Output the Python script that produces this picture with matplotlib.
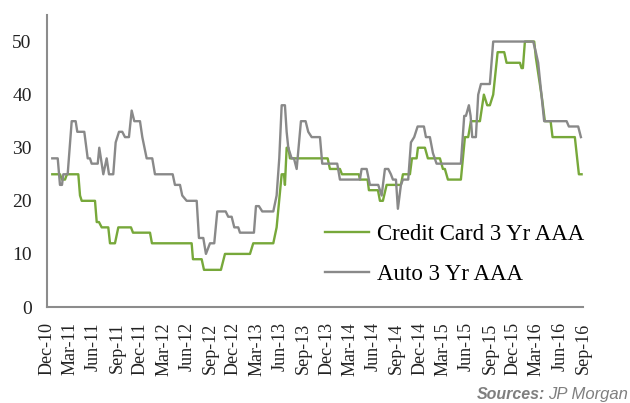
import matplotlib
matplotlib.use("Agg")
import matplotlib.pyplot as plt

# months since Dec-10
card_x = [0.68, 1.67, 1.93, 2.32, 2.57, 4.03, 4.25, 4.47, 6.18, 6.40,
          6.69, 7.04, 7.89, 8.11, 8.75, 9.18, 10.81, 11.07, 13.26, 13.51,
          18.62, 18.79, 19.91, 20.21, 22.39, 22.91, 26.13, 26.55, 29.13, 29.56,
          30.21, 30.50, 30.63, 30.85, 31.08, 31.27, 36.13, 36.42, 37.71, 37.97,
          40.15, 40.28, 41.27, 41.44, 42.60, 42.86, 43.24, 43.72, 45.56, 45.82,
          46.72, 46.98, 47.58, 47.75, 48.65, 49.03, 50.58, 50.97, 51.22, 51.61,
          53.28, 53.80, 54.22, 54.57, 55.73, 56.24, 56.67, 57.01, 57.44, 58.01,
          58.86, 59.16, 60.88, 61.09, 61.26, 61.52, 62.72, 62.93, 63.75, 64.09,
          64.83, 65.08, 67.95, 68.47, 68.82]
card_y = [25, 25, 24, 24, 25, 25, 21, 20, 20, 16,
          16, 15, 15, 12, 12, 15, 15, 14, 14, 12,
          12, 9, 9, 7, 7, 10, 10, 12, 12, 15,
          25, 25, 23, 30, 30, 28, 28, 26, 26, 25,
          25, 24, 24, 22, 22, 20, 20, 23, 23, 25,
          25, 28, 28, 30, 30, 28, 28, 26, 26, 24,
          24, 32, 32, 35, 35, 40, 38, 38, 40, 48,
          48, 46, 46, 45, 45, 50, 50, 47, 39, 35,
          35, 32, 32, 25, 25]

auto_x = [0.68, 1.38, 1.67, 1.93, 2.10, 2.66, 3.18, 3.69, 3.90, 4.80,
          5.24, 5.53, 5.75, 6.53, 6.73, 7.25, 7.68, 7.98, 8.53, 8.84,
          9.27, 9.69, 10.04, 10.55, 10.90, 11.24, 11.97, 12.27, 12.83, 13.55,
          13.90, 16.18, 16.47, 17.12, 17.41, 17.98, 19.27, 19.56, 20.12, 20.46,
          20.98, 21.53, 21.92, 23.00, 23.33, 23.77, 24.11, 24.62, 24.84, 26.64,
          26.90, 27.28, 27.71, 29.13, 29.56, 29.90, 30.21, 30.63, 30.85, 31.06,
          31.49, 31.79, 32.14, 32.69, 33.29, 33.63, 34.07, 35.14, 35.43, 37.36,
          37.71, 40.28, 40.50, 41.15, 41.57, 42.64, 43.08, 43.50, 43.93, 44.27,
          44.53, 44.92, 45.17, 45.56, 45.82, 46.50, 46.85, 47.27, 47.71, 48.52,
          48.78, 49.29, 49.68, 50.15, 53.28, 53.71, 53.93, 54.31, 54.53, 54.74,
          55.21, 55.51, 55.86, 57.01, 57.44, 62.59, 62.93, 63.23, 64.00, 66.89,
          67.18, 68.38, 68.73]
auto_y = [28, 28, 23, 23, 25, 25, 35, 35, 33, 33,
          28, 28, 27, 27, 30, 25, 28, 25, 25, 31,
          33, 33, 32, 32, 37, 35, 35, 32, 28, 28,
          25, 25, 23, 23, 21, 20, 20, 13, 13, 10,
          12, 12, 18, 18, 17, 17, 15, 15, 14, 14,
          19, 19, 18, 18, 21, 28, 38, 38, 33, 30,
          28, 28, 26, 35, 35, 33, 32, 32, 27, 27,
          24, 24, 26, 26, 23, 23, 21, 26, 26, 25,
          24, 24, 18.5, 23, 24, 24, 31, 32, 34, 34,
          32, 32, 29, 27, 27, 36, 36, 38, 36, 32,
          32, 40, 42, 42, 50, 50, 48, 46, 35, 35,
          34, 34, 32]

tick_labels = ["Dec-10", "Mar-11", "Jun-11", "Sep-11", "Dec-11", "Mar-12",
               "Jun-12", "Sep-12", "Dec-12", "Mar-13", "Jun-13", "Sep-13",
               "Dec-13", "Mar-14", "Jun-14", "Sep-14", "Dec-14", "Mar-15",
               "Jun-15", "Sep-15", "Dec-15", "Mar-16", "Jun-16", "Sep-16"]

plt.rcParams["font.family"] = ["Liberation Serif", "DejaVu Serif"]

fig = plt.figure(figsize=(6.3, 4.03), dpi=100)
ax = fig.add_axes([47/630, 96/403, 536/630, 292/403])

ax.plot(card_x, card_y, color="#77a83a", lw=1.7, label="Credit Card 3 Yr AAA")
ax.plot(auto_x, auto_y, color="#898989", lw=1.7, label="Auto 3 Yr AAA")

ax.set_xlim(0, 69)
ax.set_ylim(0, 55)
ax.set_yticks(range(0, 51, 10))
ax.set_xticks([3*i for i in range(len(tick_labels))])
ax.set_xticklabels(tick_labels, rotation=90, fontsize=13, color="#222222")
ax.tick_params(axis="y", length=0, pad=11, labelsize=14, labelcolor="#222222")
ax.tick_params(axis="x", length=0, pad=11)

for s in ["top", "right"]:
    ax.spines[s].set_visible(False)
for s in ["left", "bottom"]:
    ax.spines[s].set_color("#8c8c8c")
    ax.spines[s].set_linewidth(1.5)

ax.legend(loc="upper left", bbox_to_anchor=(0.519, 0.283), frameon=False,
          fontsize=16.5, handlelength=1.9, handletextpad=0.35,
          labelspacing=0.8, borderpad=0, borderaxespad=0)

fig.text(545/630, 4/403, "Sources:", ha="right", va="baseline", fontsize=11.5,
         family="Liberation Sans", weight="bold", style="italic", color="#7f7f7f")
fig.text(628/630, 4/403, "JP Morgan", ha="right", va="baseline", fontsize=12,
         family="Liberation Sans", style="italic", color="#7f7f7f")

fig.savefig("out.png", dpi=100)
